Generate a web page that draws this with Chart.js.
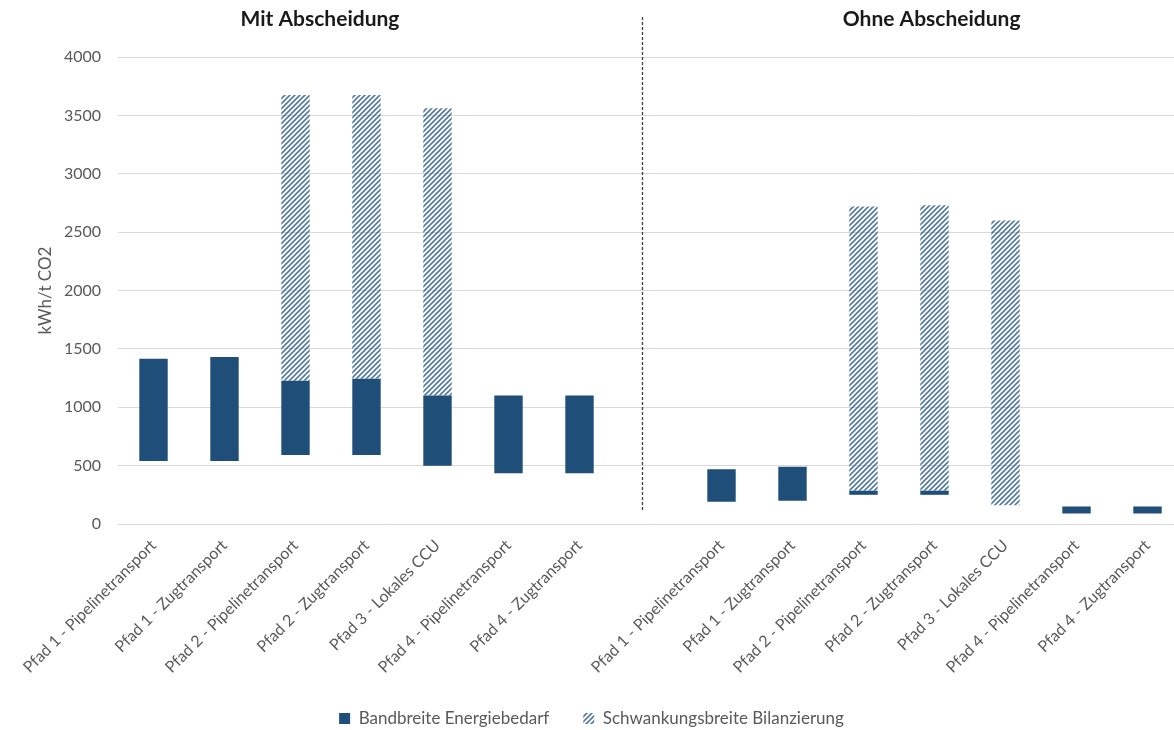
<!DOCTYPE html>
<html>
<head>
<meta charset="utf-8">
<script src="https://cdn.jsdelivr.net/npm/chart.js@4/dist/chart.umd.min.js"></script>
<style>
  html, body { margin: 0; padding: 0; background: #fff; overflow: hidden; }
  #wrap { width: 1174px; height: 730px; overflow: hidden; }
</style>
</head>
<body>
<div id="wrap"><canvas id="chart" width="1183" height="730"></canvas></div>
<script>
// categories: two groups of seven paths with an empty slot between them
const categories = [
  'Pfad 1 - Pipelinetransport', 'Pfad 1 - Zugtransport', 'Pfad 2 - Pipelinetransport',
  'Pfad 2 - Zugtransport', 'Pfad 3 - Lokales CCU', 'Pfad 4 - Pipelinetransport', 'Pfad 4 - Zugtransport',
  '',
  'Pfad 1 - Pipelinetransport', 'Pfad 1 - Zugtransport', 'Pfad 2 - Pipelinetransport',
  'Pfad 2 - Zugtransport', 'Pfad 3 - Lokales CCU', 'Pfad 4 - Pipelinetransport', 'Pfad 4 - Zugtransport'
];

// [min, max] in kWh/t CO2
const energiebedarf = [
  [540, 1415], [540, 1430], [590, 1228], [590, 1245], [500, 1100], [435, 1100], [435, 1100],
  null,
  [190, 470], [200, 490], [250, 285], [250, 285], null, [90, 150], [90, 150]
];

const bilanzierung = [
  null, null, [1228, 3675], [1245, 3675], [1100, 3560], null, null,
  null,
  null, null, [285, 2720], [285, 2730], [160, 2600], null, null
];

const yTicks = { min: 0, max: 4000, step: 500 };
const groupTitles = ['Mit Abscheidung', 'Ohne Abscheidung'];

const FONT = 'Lato, "Open Sans", sans-serif';
const GREY = '#595959';
const DARK_BLUE = '#1f4e79';

// upward diagonal hatch fill
function hatchPattern() {
  const size = 5;
  const c = document.createElement('canvas');
  c.width = size; c.height = size;
  const g = c.getContext('2d');
  g.strokeStyle = 'rgba(40, 88, 138, 0.8)';
  g.lineWidth = 1.6;
  g.beginPath();
  g.moveTo(0, size); g.lineTo(size, 0);
  g.moveTo(-1, 1); g.lineTo(1, -1);
  g.moveTo(size - 1, size + 1); g.lineTo(size + 1, size - 1);
  g.stroke();
  return g.createPattern(c, 'repeat');
}

// group titles and the dashed separator
const decorations = {
  id: 'decorations',
  afterDraw(chart) {
    const { ctx } = chart;
    const x = chart.scales.x;
    ctx.save();
    ctx.strokeStyle = '#404040';
    ctx.lineWidth = 1.3;
    ctx.setLineDash([3, 2]);
    const sx = Math.round(x.getPixelForValue(6.88)) + 0.5;
    ctx.beginPath();
    ctx.moveTo(sx, 17);
    ctx.lineTo(sx, 510);
    ctx.stroke();

    ctx.setLineDash([]);
    ctx.fillStyle = '#1a1a1a';
    ctx.font = 'bold 21px ' + FONT;
    ctx.textAlign = 'center';
    ctx.textBaseline = 'middle';
    ctx.fillText(groupTitles[0], x.getPixelForValue(2.345), 19);
    ctx.fillText(groupTitles[1], x.getPixelForValue(10.96), 19);
    ctx.restore();
  }
};

new Chart(document.getElementById('chart'), {
  type: 'bar',
  data: {
    labels: categories,
    datasets: [
      {
        label: 'Bandbreite Energiebedarf',
        data: energiebedarf,
        backgroundColor: DARK_BLUE,
        grouped: false,
        barPercentage: 0.4,
        categoryPercentage: 1,
        order: 1
      },
      {
        label: 'Schwankungsbreite Bilanzierung',
        data: bilanzierung,
        backgroundColor: hatchPattern(),
        grouped: false,
        barPercentage: 0.4,
        categoryPercentage: 1,
        order: 2
      }
    ]
  },
  options: {
    responsive: false,
    animation: false,
    layout: { padding: { top: 57, right: 0, bottom: -7, left: 0 } },
    plugins: {
      tooltip: { enabled: false },
      legend: {
        position: 'bottom',
        labels: {
          font: { family: FONT, size: 17, lineHeight: 0.6 },
          color: GREY,
          boxWidth: 11,
          boxHeight: 11,
          padding: 34
        }
      }
    },
    scales: {
      x: {
        grid: { display: false },
        border: { display: false },
        ticks: {
          autoSkip: false,
          maxRotation: 45,
          minRotation: 45,
          font: { family: FONT, size: 16 },
          color: GREY,
          padding: 4
        },
        afterFit(scale) { scale.height = 152; }
      },
      y: {
        min: yTicks.min,
        max: yTicks.max,
        grid: { color: '#d9d9d9', lineWidth: 1, drawTicks: false },
        border: { display: false },
        ticks: {
          stepSize: yTicks.step,
          font: { family: FONT, size: 16 },
          color: GREY,
          padding: 17,
          callback: (v) => String(v)
        },
        title: {
          display: true,
          text: 'kWh/t CO2',
          font: { family: FONT, size: 17 },
          color: GREY,
          padding: { top: 35, bottom: 0 }
        },
        afterFit(scale) { scale.width = 118; }
      }
    }
  },
  plugins: [decorations]
});
</script>
</body>
</html>
